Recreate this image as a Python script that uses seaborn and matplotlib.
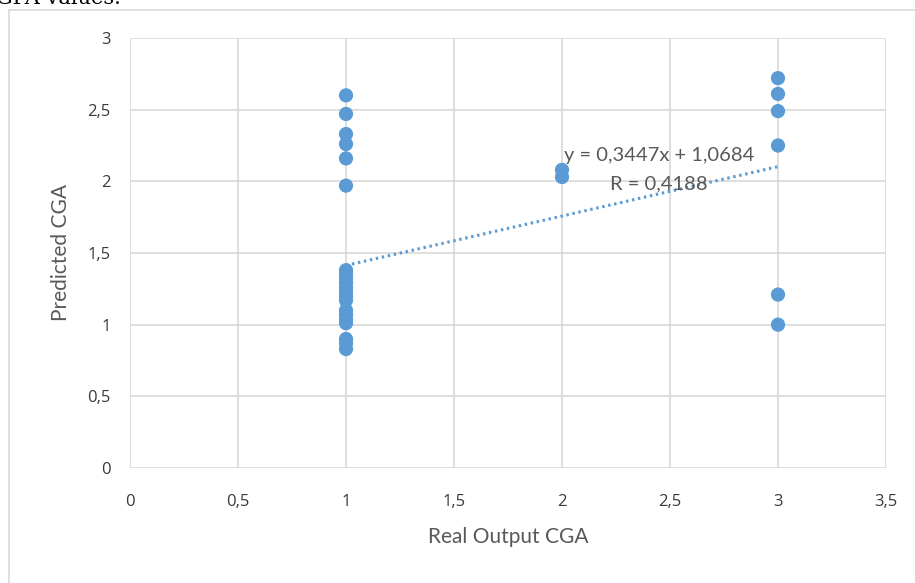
import numpy as np
import pandas as pd
import matplotlib
matplotlib.use("Agg")
import matplotlib.pyplot as plt
import seaborn as sns
from matplotlib.patches import Rectangle
from matplotlib.ticker import FuncFormatter, MultipleLocator

# points
real_x1 = [1] * 21
pred_x1 = [2.60, 2.47, 2.33, 2.26, 2.16, 1.97, 1.38, 1.35, 1.32, 1.29, 1.26,
           1.23, 1.20, 1.17, 1.10, 1.07, 1.04, 1.01, 0.90, 0.87, 0.83]
real_x2 = [2, 2]
pred_x2 = [2.08, 2.03]
real_x3 = [3] * 6
pred_x3 = [2.72, 2.61, 2.49, 2.25, 1.21, 1.00]

# trendline as printed on the chart
slope = 0.3447
intercept = 1.0684
r_value = 0.4188
trend_x = [1, 3]

df = pd.DataFrame({
    "real": real_x1 + real_x2 + real_x3,
    "pred": pred_x1 + pred_x2 + pred_x3,
})
trend = pd.DataFrame({"x": trend_x})
trend["y"] = slope * trend["x"] + intercept

sns.set_style("white")
plt.rcParams["font.family"] = ["Lato", "DejaVu Sans"]

blue = "#5B9BD5"
gray = "#595959"
dark = "#3a3a3a"
grid = "#d9d9d9"

fig = plt.figure(figsize=(9.15, 5.83), dpi=100)
ax = fig.add_axes([0.1421, 0.1973, 0.9683 - 0.1421, 0.9348 - 0.1973])

# outer chart frame
fig.patches.append(Rectangle((9 / 915, -0.1), 1.2, 1 - 10 / 583 + 0.1,
                             transform=fig.transFigure, fill=False,
                             edgecolor=grid, linewidth=1.2))
fig.text(-0.004, 1.003, "GPA values.", family="DejaVu Serif", fontsize=15,
         va="center", ha="left", color="black")

sns.lineplot(data=trend, x="x", y="y", ax=ax, color=blue, linewidth=2.2,
             linestyle=(0, (0.8, 1.2)), zorder=2)
sns.scatterplot(data=df, x="real", y="pred", ax=ax, color=blue, s=105,
                edgecolor="none", zorder=3)

ax.set_xlim(0, 3.5)
ax.set_ylim(0, 3)
ax.xaxis.set_major_locator(MultipleLocator(0.5))
ax.yaxis.set_major_locator(MultipleLocator(0.5))
fmt = FuncFormatter(lambda v, p: f"{v:g}".replace(".", ","))
ax.xaxis.set_major_formatter(fmt)
ax.yaxis.set_major_formatter(fmt)
ax.grid(True, color=grid, linewidth=1.2)
ax.set_axisbelow(True)
for s in ax.spines.values():
    s.set_visible(False)
ax.tick_params(length=0, labelsize=12, labelcolor=dark)
ax.tick_params(axis="x", pad=19)
ax.tick_params(axis="y", pad=14)
for lab in ax.get_xticklabels() + ax.get_yticklabels():
    lab.set_family(["Open Sans", "DejaVu Sans"])

ax.set_xlabel("Real Output CGA", fontsize=15, color=gray, labelpad=12)
ax.set_ylabel("Predicted CGA", fontsize=15, color=gray, labelpad=12)

ax.text(2.45, 2.18, f"y = {slope}x + {intercept}".replace(".", ","),
        ha="center", va="center", fontsize=14.5, color=gray)
ax.text(2.45, 1.98, f"R = {r_value}".replace(".", ","),
        ha="center", va="center", fontsize=14.5, color=gray)

fig.savefig("out.png", dpi=100)
